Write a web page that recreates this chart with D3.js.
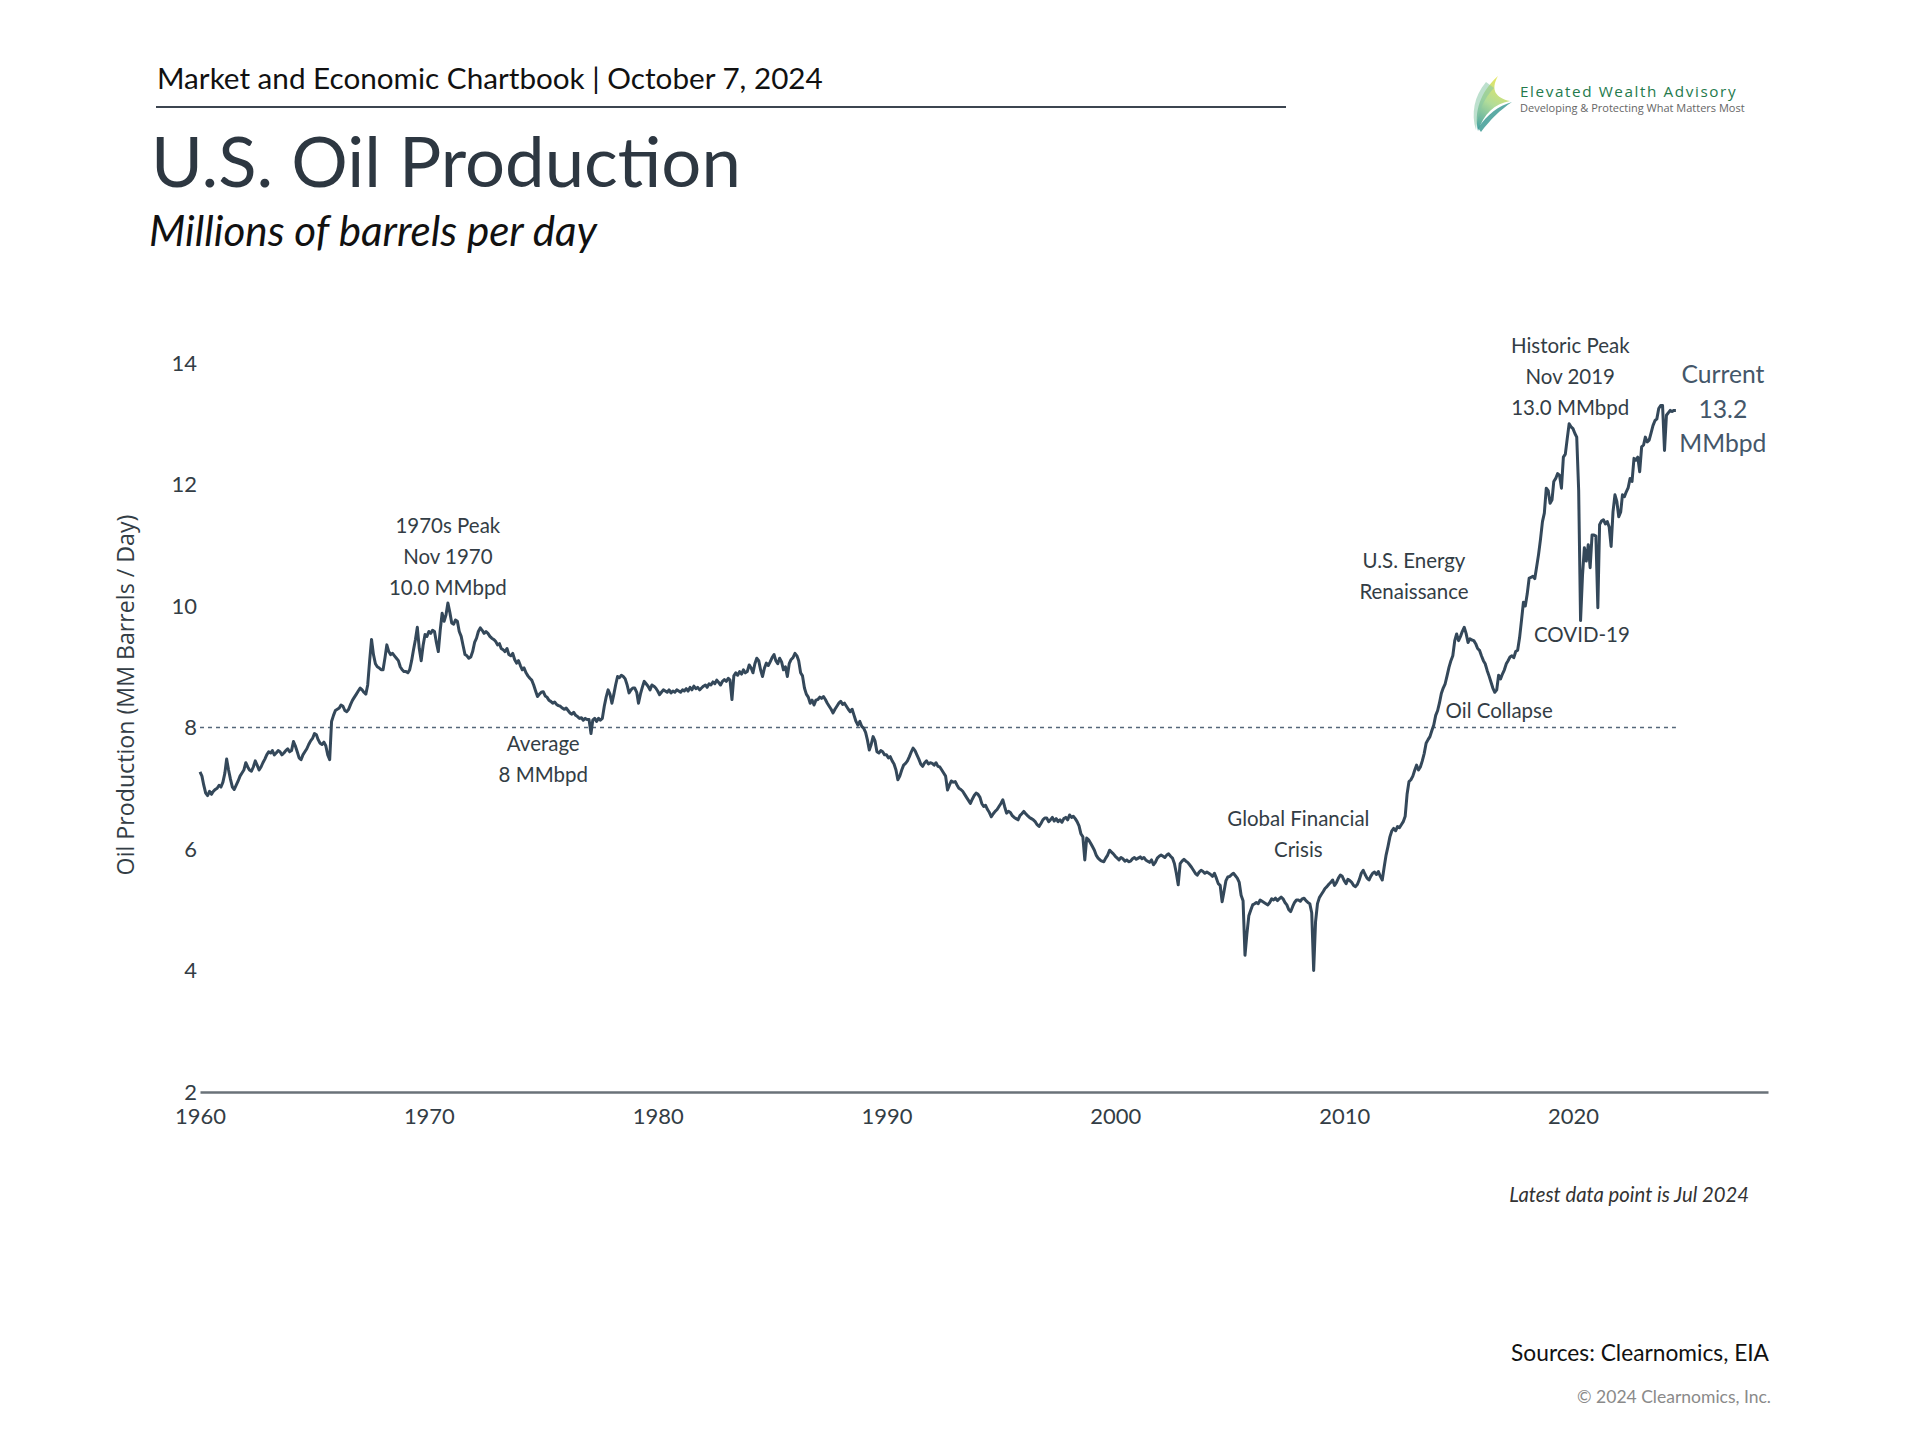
<!DOCTYPE html>
<html>
<head>
<meta charset="utf-8">
<script src="https://cdn.jsdelivr.net/npm/d3@7"></script>
<style>
html, body { margin: 0; background: #fff; }
svg { display: block; }
text { font-family: Lato, "Open Sans", sans-serif; }
</style>
</head>
<body>
<div id="chart"></div>
<script>

// Monthly U.S. crude oil production, MM barrels / day
var prod1960s = [
  7.27, 7.20, 7.05, 6.92, 6.88, 6.95, 6.90, 6.95, 6.98, 7.00, 7.05, 7.02,
  7.10, 7.25, 7.48, 7.30, 7.15, 7.02, 6.98, 7.05, 7.12, 7.20, 7.25, 7.30,
  7.42, 7.35, 7.30, 7.28, 7.35, 7.45, 7.38, 7.30, 7.35, 7.42, 7.48, 7.55,
  7.60, 7.58, 7.62, 7.55, 7.58, 7.62, 7.60, 7.55, 7.58, 7.62, 7.65, 7.60,
  7.62, 7.77, 7.70, 7.60, 7.50, 7.47, 7.55, 7.60, 7.65, 7.72, 7.78, 7.82,
  7.90, 7.88, 7.80, 7.74, 7.72, 7.76, 7.70, 7.55, 7.47, 8.10, 8.20, 8.28,
  8.30, 8.32, 8.37, 8.35, 8.28, 8.26, 8.30, 8.38, 8.45, 8.50, 8.55, 8.60,
  8.65, 8.62, 8.58, 8.55, 8.70, 9.10, 9.45, 9.20, 9.05, 9.00, 8.98, 8.95,
  8.95, 9.15, 9.36, 9.25, 9.20, 9.22, 9.18, 9.14, 9.10, 9.00, 8.95, 8.92,
  8.92, 8.90, 8.95, 9.10, 9.28, 9.45, 9.65, 9.30, 9.10, 9.35, 9.53, 9.50
];
var prod1970s = [
  9.58, 9.55, 9.60, 9.58, 9.40, 9.25, 9.60, 9.88, 9.75, 9.85, 10.05, 9.90,
  9.72, 9.70, 9.77, 9.75, 9.58, 9.50, 9.35, 9.20, 9.18, 9.14, 9.16, 9.25,
  9.40, 9.47, 9.58, 9.64, 9.60, 9.55, 9.58, 9.55, 9.50, 9.47, 9.45, 9.42,
  9.36, 9.38, 9.30, 9.28, 9.25, 9.30, 9.20, 9.18, 9.22, 9.12, 9.06, 9.10,
  9.02, 8.95, 8.98, 8.90, 8.85, 8.81, 8.78, 8.70, 8.60, 8.51, 8.55, 8.58,
  8.59, 8.52, 8.50, 8.45, 8.43, 8.40, 8.42, 8.38, 8.36, 8.35, 8.32, 8.30,
  8.32, 8.28, 8.24, 8.22, 8.25, 8.20, 8.18, 8.15, 8.16, 8.12, 8.15, 8.13,
  8.13, 7.90, 8.12, 8.15, 8.10, 8.15, 8.12, 8.15, 8.35, 8.50, 8.62, 8.55,
  8.40, 8.55, 8.70, 8.84, 8.82, 8.86, 8.84, 8.80, 8.70, 8.57, 8.62, 8.65,
  8.65, 8.58, 8.40, 8.55, 8.66, 8.76, 8.72, 8.68, 8.62, 8.70, 8.68, 8.65
];
var prod1980s = [
  8.60, 8.54, 8.58, 8.62, 8.60, 8.58, 8.62, 8.57, 8.60, 8.58, 8.62, 8.60,
  8.58, 8.62, 8.60, 8.64, 8.60, 8.66, 8.62, 8.68, 8.64, 8.66, 8.62, 8.65,
  8.68, 8.70, 8.66, 8.72, 8.70, 8.75, 8.72, 8.78, 8.74, 8.70, 8.76, 8.79,
  8.76, 8.81, 8.78, 8.46, 8.85, 8.90, 8.86, 8.92, 8.88, 8.95, 8.90, 8.92,
  9.03, 8.98, 8.90, 9.05, 9.14, 9.10, 8.95, 8.84, 8.98, 9.06, 9.02, 9.08,
  9.15, 9.20, 9.10, 9.05, 9.14, 9.08, 8.95, 9.00, 8.84, 9.05, 9.12, 9.15,
  9.22, 9.18, 9.10, 8.90, 8.85, 8.65, 8.55, 8.50, 8.40, 8.45, 8.37, 8.45,
  8.46, 8.50, 8.48, 8.51, 8.46, 8.40, 8.35, 8.30, 8.24, 8.30, 8.35, 8.40,
  8.43, 8.38, 8.40, 8.35, 8.30, 8.26, 8.30, 8.20, 8.10, 8.04, 8.10, 8.02,
  7.99, 7.92, 7.80, 7.63, 7.72, 7.85, 7.78, 7.60, 7.58, 7.62, 7.60, 7.55
];
var prod1990s = [
  7.55, 7.50, 7.52, 7.45, 7.40, 7.30, 7.14, 7.20, 7.30, 7.38, 7.41, 7.45,
  7.52, 7.60, 7.66, 7.62, 7.55, 7.48, 7.40, 7.36, 7.42, 7.45, 7.40, 7.42,
  7.41, 7.38, 7.42, 7.36, 7.35, 7.30, 7.25, 7.20, 6.97, 7.05, 7.12, 7.10,
  7.11, 7.05, 7.00, 6.98, 6.95, 6.90, 6.85, 6.80, 6.75, 6.82, 6.88, 6.92,
  6.90, 6.85, 6.75, 6.70, 6.72, 6.65, 6.60, 6.53, 6.58, 6.62, 6.65, 6.70,
  6.75, 6.81, 6.70, 6.59, 6.62, 6.60, 6.55, 6.52, 6.50, 6.48, 6.55, 6.58,
  6.62, 6.58, 6.55, 6.52, 6.50, 6.48, 6.45, 6.40, 6.37, 6.42, 6.48, 6.51,
  6.51, 6.45, 6.48, 6.52, 6.46, 6.50, 6.45, 6.48, 6.44, 6.50, 6.52, 6.48,
  6.56, 6.52, 6.54, 6.50, 6.45, 6.38, 6.25, 6.20, 5.82, 6.18, 6.15, 6.10,
  6.04, 5.98, 5.90, 5.85, 5.82, 5.80, 5.79, 5.85, 5.90, 5.98, 5.95, 5.92
];
var prod2000s = [
  5.88, 5.85, 5.82, 5.86, 5.84, 5.80, 5.82, 5.79, 5.80, 5.84, 5.86, 5.83,
  5.85, 5.87, 5.84, 5.86, 5.82, 5.80, 5.78, 5.82, 5.74, 5.78, 5.85, 5.88,
  5.90, 5.88, 5.86, 5.90, 5.92, 5.88, 5.85, 5.76, 5.60, 5.41, 5.76, 5.80,
  5.83, 5.80, 5.78, 5.74, 5.70, 5.65, 5.60, 5.57, 5.62, 5.65, 5.63, 5.60,
  5.62, 5.60, 5.58, 5.55, 5.60, 5.52, 5.43, 5.40, 5.13, 5.30, 5.48, 5.54,
  5.55, 5.58, 5.60, 5.56, 5.52, 5.45, 5.24, 5.15, 4.25, 4.60, 4.90, 4.99,
  5.08, 5.10, 5.12, 5.10, 5.16, 5.14, 5.12, 5.10, 5.08, 5.12, 5.18, 5.16,
  5.19, 5.15, 5.18, 5.21, 5.18, 5.12, 5.08, 5.00, 4.97, 5.05, 5.12, 5.16,
  5.16, 5.14, 5.18, 5.19, 5.15, 5.12, 5.10, 4.95, 4.00, 4.80, 5.10, 5.20,
  5.25, 5.30, 5.35, 5.38, 5.42, 5.45, 5.49, 5.40, 5.45, 5.52, 5.57, 5.55
];
var prod2010s = [
  5.48, 5.43, 5.50, 5.48, 5.45, 5.40, 5.38, 5.42, 5.50, 5.60, 5.65, 5.58,
  5.52, 5.49, 5.55, 5.60, 5.62, 5.58, 5.63, 5.55, 5.49, 5.70, 5.90, 6.04,
  6.20, 6.30, 6.34, 6.30, 6.37, 6.35, 6.40, 6.45, 6.54, 6.90, 7.11, 7.14,
  7.20, 7.30, 7.38, 7.30, 7.35, 7.45, 7.57, 7.74, 7.80, 7.85, 7.95, 8.04,
  8.20, 8.28, 8.40, 8.56, 8.65, 8.72, 8.85, 8.99, 9.10, 9.18, 9.43, 9.54,
  9.43, 9.50, 9.58, 9.65, 9.55, 9.40, 9.46, 9.44, 9.43, 9.38, 9.30, 9.27,
  9.18, 9.10, 9.05, 8.94, 8.85, 8.75, 8.65, 8.58, 8.62, 8.86, 8.80, 8.88,
  8.95, 9.05, 9.10, 9.16, 9.18, 9.15, 9.25, 9.27, 9.48, 9.76, 10.06, 10.00,
  10.20, 10.46, 10.47, 10.49, 10.45, 10.65, 10.85, 11.10, 11.39, 11.53, 11.94, 11.90,
  11.69, 11.75, 12.05, 12.10, 12.18, 12.15, 11.94, 12.45, 12.50, 12.75, 13.00, 12.95
];
var prod2020s = [
  12.92, 12.84, 12.78, 11.90, 9.76, 10.50, 10.96, 10.74, 11.01, 10.63, 11.17, 11.17,
  11.15, 9.97, 11.34, 11.40, 11.42, 11.35, 11.39, 11.30, 10.98, 11.55, 11.83, 11.72,
  11.47, 11.55, 11.83, 11.80, 11.88, 11.95, 12.10, 12.05, 12.43, 12.40, 12.45, 12.21,
  12.62, 12.65, 12.78, 12.70, 12.73, 12.85, 12.97, 13.05, 13.08, 13.25, 13.30, 13.30,
  12.56, 13.14, 13.18, 13.22, 13.20, 13.22, 13.22
];

var startYear = 1960;
var average = 8;
var yTicks = [2, 4, 6, 8, 10, 12, 14];
var xTicks = [1960, 1970, 1980, 1990, 2000, 2010, 2020];

// annotation text, anchored at [year, value]
var notes = [
  {at: [1970.83, 11.2], lines: ["1970s Peak", "Nov 1970", "10.0 MMbpd"]},
  {at: [1975.0, 7.62], lines: ["Average", "8 MMbpd"]},
  {at: [2008.0, 6.38], lines: ["Global Financial", "Crisis"]},
  {at: [2013.05, 10.63], lines: ["U.S. Energy", "Renaissance"]},
  {at: [2014.43, 8.16], lines: ["Oil Collapse"], anchor: "start"},
  {at: [2020.39, 9.4], lines: ["COVID-19"]},
  {at: [2019.88, 14.17], lines: ["Historic Peak", "Nov 2019", "13.0 MMbpd"]}
];
var current = {at: [2026.55, 13.67], lines: ["Current", "13.2", "MMbpd"]};

var data = [].concat(prod1960s, prod1970s, prod1980s, prod1990s, prod2000s, prod2010s, prod2020s)
  .map(function(v, i) { return {date: new Date(startYear, i, 1), value: v}; });

var W = 1920, H = 1440;

var svg = d3.select("#chart").append("svg")
    .attr("width", W)
    .attr("height", H);

// size a text element so it spans a given width
function fit(sel, w) {
  var len = sel.node().getComputedTextLength();
  sel.attr("font-size", parseFloat(sel.attr("font-size")) * w / len);
  return sel;
}
function sizeFor(str, w, family, style) {
  var t = svg.append("text").attr("font-size", 20).style("font-family", family)
      .style("font-style", style || "normal").text(str);
  var s = 20 * w / t.node().getComputedTextLength();
  t.remove();
  return s;
}

// header
fit(svg.append("text")
    .attr("x", 157).attr("y", 89)
    .attr("font-size", 28).attr("fill", "#111")
    .text("Market and Economic Chartbook | October 7, 2024"), 666);

svg.append("line")
    .attr("x1", 156).attr("x2", 1286)
    .attr("y1", 107).attr("y2", 107)
    .attr("stroke", "#3c4550").attr("stroke-width", 2);

fit(svg.append("text")
    .attr("x", 151).attr("y", 187)
    .attr("font-size", 80).attr("fill", "#2d3741")
    .text("U.S. Oil Production"), 590);

fit(svg.append("text")
    .attr("x", 149).attr("y", 246)
    .attr("font-size", 36).attr("fill", "#111")
    .style("font-style", "italic")
    .text("Millions of barrels per day"), 448);

// logo
var defs = svg.append("defs");
var grad = defs.append("linearGradient").attr("id", "leaf")
    .attr("x1", "0.6").attr("y1", "0").attr("x2", "0.2").attr("y2", "1");
grad.append("stop").attr("offset", "0").attr("stop-color", "#e6e44c");
grad.append("stop").attr("offset", "0.5").attr("stop-color", "#a8d88e");
grad.append("stop").attr("offset", "1").attr("stop-color", "#3a9c98");

var logo = svg.append("g");
logo.append("path")
    .attr("d", "M1498,76 C1480,92 1474,112 1478,131 C1484,114 1494,104 1510,101 C1496,98 1490,90 1498,76 Z")
    .attr("fill", "url(#leaf)").attr("opacity", 0.9);
logo.append("path")
    .attr("d", "M1486,82 C1474,96 1471,114 1476,130 C1478,112 1484,98 1494,88 Z")
    .attr("fill", "#86c6a6").attr("opacity", 0.55);
logo.append("path")
    .attr("d", "M1478,128 C1488,114 1498,106 1512,102 C1500,110 1490,120 1481,132 Z")
    .attr("fill", "#3f9c95").attr("opacity", 0.85);

fit(logo.append("text")
    .attr("x", 1520).attr("y", 97)
    .attr("font-size", 13).attr("fill", "#247a4c")
    .style("font-family", "'Open Sans', sans-serif")
    .style("letter-spacing", "1.6px")
    .text("Elevated Wealth Advisory"), 224);

fit(logo.append("text")
    .attr("x", 1520).attr("y", 112)
    .attr("font-size", 11).attr("fill", "#666")
    .style("font-family", "'Open Sans', sans-serif")
    .text("Developing & Protecting What Matters Most"), 225);

// scales
var x = d3.scaleTime()
    .domain([new Date(1960, 0, 1), new Date(2028, 6, 10)])
    .range([200, 1768]);

var y = d3.scaleLinear()
    .domain([2, 14])
    .range([1092, 363]);

function xy(p) {
  var yr = Math.floor(p[0]);
  var d = new Date(yr, 0, 1).getTime() + (p[0] - yr) * 365.25 * 864e5;
  return [x(new Date(d)), y(p[1])];
}

var tickSize = sizeFor("1960", 51, "Lato");

// x axis
var gx = svg.append("g")
    .attr("transform", "translate(0," + y(2) + ")")
    .call(d3.axisBottom(x)
      .tickValues(xTicks.map(function(d) { return new Date(d, 0, 1); }))
      .tickFormat(d3.timeFormat("%Y"))
      .tickSize(0)
      .tickPadding(16));
gx.select(".domain").attr("stroke", "#6a7279").attr("stroke-width", 2.5);
gx.selectAll("text")
    .attr("font-size", tickSize)
    .attr("fill", "#333d45")
    .style("font-family", "Lato, sans-serif");

// y axis
var gy = svg.append("g")
    .attr("transform", "translate(200,0)")
    .call(d3.axisLeft(y)
      .tickValues(yTicks)
      .tickSize(0)
      .tickPadding(3));
gy.select(".domain").remove();
gy.selectAll("text")
    .attr("font-size", tickSize)
    .attr("fill", "#333d45")
    .style("font-family", "Lato, sans-serif");

fit(svg.append("text")
    .attr("transform", "translate(134,695) rotate(-90)")
    .attr("text-anchor", "middle")
    .attr("font-size", 22).attr("fill", "#333d45")
    .style("font-family", "'Open Sans', sans-serif")
    .text("Oil Production (MM Barrels / Day)"), 361);

// average line
svg.append("line")
    .attr("x1", x(data[0].date))
    .attr("x2", x(data[data.length - 1].date))
    .attr("y1", y(average)).attr("y2", y(average))
    .attr("stroke", "#55677a")
    .attr("stroke-width", 1.6)
    .attr("stroke-dasharray", "4,4");

// production line
svg.append("path")
    .datum(data)
    .attr("fill", "none")
    .attr("stroke", "#34485a")
    .attr("stroke-width", 3)
    .attr("stroke-linejoin", "round")
    .attr("d", d3.line()
      .x(function(d) { return x(d.date); })
      .y(function(d) { return y(d.value); }));

// annotations
var noteSize = sizeFor("13.0 MMbpd", 118, "Lato");

notes.forEach(function(n) {
  var p = xy(n.at);
  var t = svg.append("text")
      .attr("text-anchor", n.anchor || "middle")
      .attr("font-size", noteSize)
      .attr("fill", "#333d45");
  n.lines.forEach(function(l, i) {
    t.append("tspan").attr("x", p[0]).attr("y", p[1] + i * 31).text(l);
  });
});

var cp = xy(current.at);
var ct = svg.append("text")
    .attr("text-anchor", "middle")
    .attr("font-size", sizeFor("Current", 83, "Lato"))
    .attr("fill", "#44576a");
current.lines.forEach(function(l, i) {
  ct.append("tspan").attr("x", cp[0]).attr("y", cp[1] + i * 34.5).text(l);
});

// footer
fit(svg.append("text")
    .attr("x", 1749).attr("y", 1202)
    .attr("text-anchor", "end")
    .attr("font-size", 18).attr("fill", "#333")
    .style("font-style", "italic")
    .text("Latest data point is Jul 2024"), 240);

fit(svg.append("text")
    .attr("x", 1769).attr("y", 1361)
    .attr("text-anchor", "end")
    .attr("font-size", 22).attr("fill", "#111")
    .text("Sources: Clearnomics, EIA"), 258);

fit(svg.append("text")
    .attr("x", 1771).attr("y", 1403)
    .attr("text-anchor", "end")
    .attr("font-size", 17).attr("fill", "#8a8a8a")
    .text("\u00a9 2024 Clearnomics, Inc."), 194);

</script>
</body>
</html>
